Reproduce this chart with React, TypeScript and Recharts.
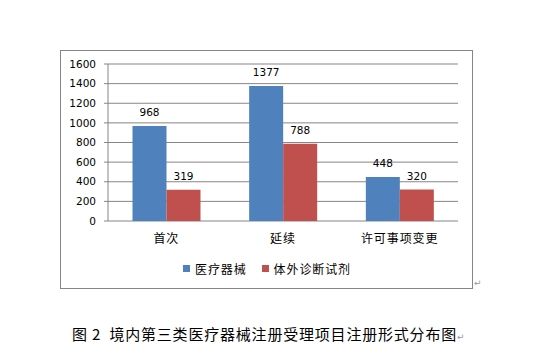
import React from 'react';
import { BarChart, Bar, XAxis, YAxis, CartesianGrid, Legend, LabelList } from 'recharts';

const categories = ['首次', '延续', '许可事项变更'];
const deviceValues = [968, 1377, 448];
const ivdValues = [319, 788, 320];
const seriesNames = ['医疗器械', '体外诊断试剂'];
const yTicks = [0, 200, 400, 600, 800, 1000, 1200, 1400, 1600];
const edgeTicks = [0, 1, 2, 3];
const caption = '图 2  境内第三类医疗器械注册受理项目注册形式分布图';

const data = categories.map((c, i) => ({ name: c, device: deviceValues[i], ivd: ivdValues[i] }));

const GRAY = '#868686';
const CJK = '"Noto Sans CJK SC", "DejaVu Sans", sans-serif';
const NUM = '"DejaVu Sans", sans-serif';

const renderLegend = (props: any) => {
  const payload = [...(props.payload || [])].sort(
    (a: any, b: any) => seriesNames.indexOf(a.value) - seriesNames.indexOf(b.value)
  );
  return (
    <div style={{ display: 'flex', alignItems: 'center', fontFamily: CJK, fontSize: 12, letterSpacing: 0.9, whiteSpace: 'nowrap', color: '#000' }}>
      {payload.map((p: any, i: number) => (
        <span key={i} style={{ display: 'inline-flex', alignItems: 'center', marginRight: i === 0 ? 15 : 0 }}>
          <span style={{ display: 'inline-block', width: 7, height: 7, background: p.color, marginRight: 5 }} />
          {p.value}
        </span>
      ))}
    </div>
  );
};

export default function App() {
  return (
    <div style={{ position: 'absolute', left: 0, top: 0, width: 542, height: 359, background: '#fff' }}>
      <div style={{ position: 'absolute', left: 60, top: 50, width: 413, height: 239, boxSizing: 'border-box', border: `1px solid ${GRAY}` }} />
      <div style={{ position: 'absolute', left: 0, top: 0 }}>
        <BarChart
          width={542}
          height={359}
          data={data}
          margin={{ top: 64, right: 84, left: 68, bottom: 108 }}
          barCategoryGap="21%"
          barGap={0}
        >
          <CartesianGrid vertical={false} stroke={GRAY} strokeWidth={1} />
          <XAxis
            xAxisId="edges"
            type="number"
            domain={[0, 3]}
            ticks={edgeTicks}
            tick={false}
            height={0}
            tickSize={5}
            axisLine={{ stroke: GRAY }}
            tickLine={{ stroke: GRAY }}
            allowDataOverflow
          />
          <XAxis
            dataKey="name"
            height={30}
            axisLine={false}
            tickLine={false}
            tickSize={5}
            tickMargin={8}
            tick={{ fontFamily: CJK, fontSize: 12, fill: '#000', letterSpacing: 0.9 }}
          />
          <YAxis
            width={40}
            domain={[0, 1600]}
            ticks={yTicks}
            interval={0}
            tickSize={4}
            tickMargin={8}
            axisLine={{ stroke: GRAY }}
            tickLine={{ stroke: GRAY }}
            tick={{ fontFamily: NUM, fontSize: 10.5, fill: '#000' }}
          />
          <Legend
            layout="horizontal"
            verticalAlign="middle"
            align="center"
            content={renderLegend}
            wrapperStyle={{ left: 183, top: 260, width: 220, height: 16 }}
          />
          <Bar dataKey="device" name={seriesNames[0]} fill="#4F81BD" isAnimationActive={false}>
            <LabelList dataKey="device" position="top" offset={10} style={{ fontFamily: NUM, fontSize: 10.5, fill: '#000' }} />
          </Bar>
          <Bar dataKey="ivd" name={seriesNames[1]} fill="#C0504D" isAnimationActive={false}>
            <LabelList dataKey="ivd" position="top" offset={10} style={{ fontFamily: NUM, fontSize: 10.5, fill: '#000' }} />
          </Bar>
        </BarChart>
      </div>
      <div style={{ position: 'absolute', left: 474, top: 278, fontFamily: NUM, fontSize: 9, color: '#999' }}>↵</div>
      <div style={{ position: 'absolute', left: 72, top: 323, fontFamily: CJK, fontSize: 15, letterSpacing: 0.8, color: '#000', whiteSpace: 'pre' }}>
        {caption}
        <span style={{ fontFamily: NUM, fontSize: 9, color: '#999', letterSpacing: 0 }}>↵</span>
      </div>
    </div>
  );
}
